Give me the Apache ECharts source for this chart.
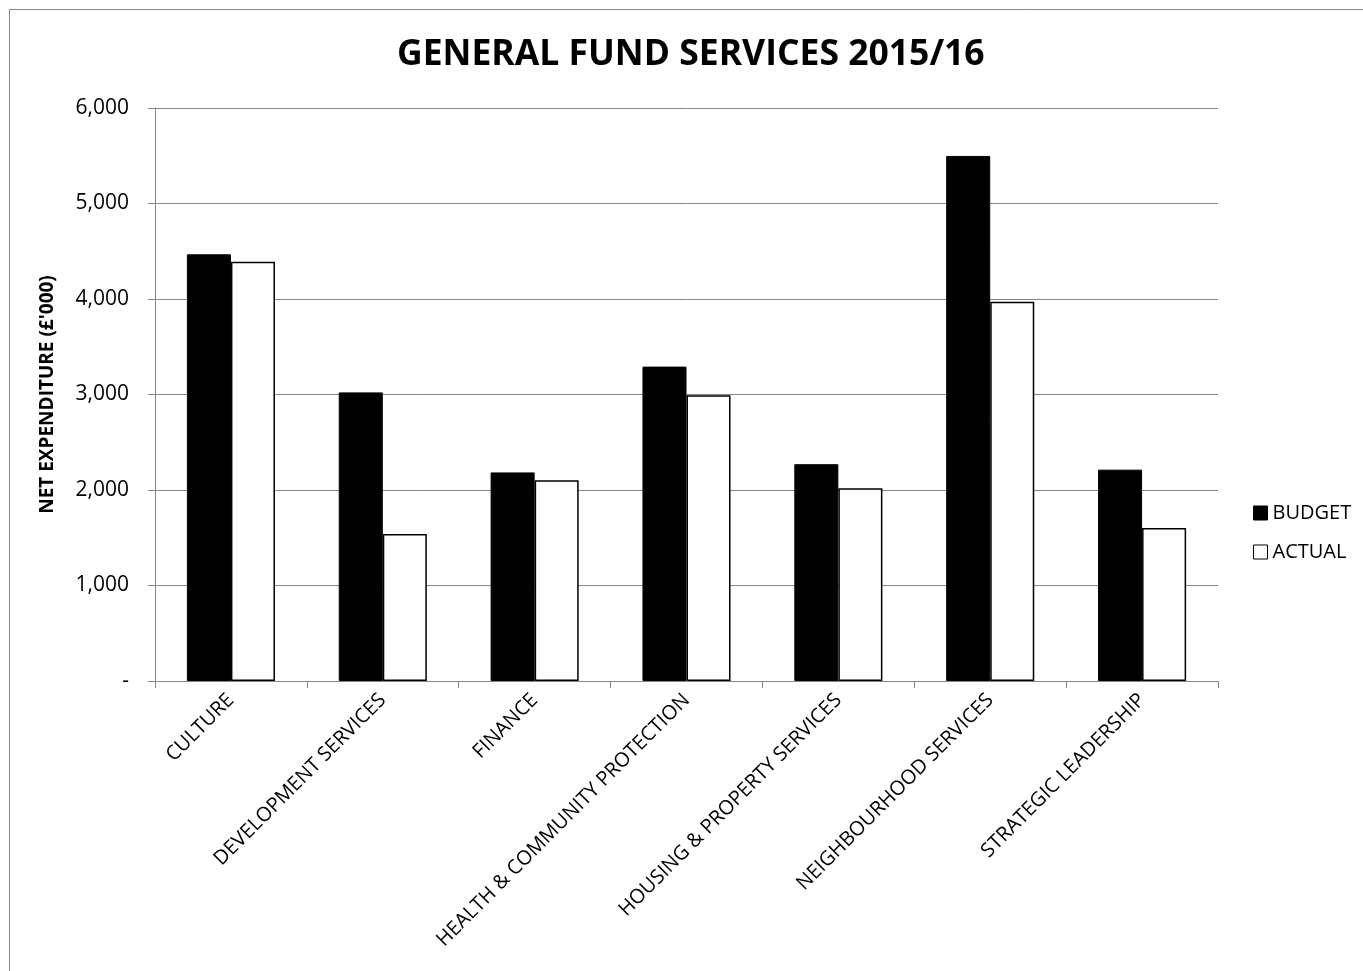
<!DOCTYPE html>
<html>
<head>
<meta charset="utf-8">
<script src="https://cdn.jsdelivr.net/npm/echarts@6/dist/echarts.min.js"></script>
<style>
html,body{margin:0;padding:0;background:#fff;}
#chart{width:1363px;height:971px;}
</style>
</head>
<body>
<div id="chart"></div>
<script>
const categories = ["CULTURE","DEVELOPMENT SERVICES","FINANCE","HEALTH & COMMUNITY PROTECTION","HOUSING & PROPERTY SERVICES","NEIGHBOURHOOD SERVICES","STRATEGIC LEADERSHIP"];
const budget = [4468, 3022, 2184, 3292, 2270, 5498, 2213];
const actual = [4390, 1539, 2101, 2993, 2019, 3970, 1603];
const yTicks = [0, 1000, 2000, 3000, 4000, 5000, 6000];

const font = "'Open Sans', 'Liberation Sans', sans-serif";
const chart = echarts.init(document.getElementById('chart'));
chart.setOption({
  animation: false,
  backgroundColor: '#fff',
  graphic: [{
    type: 'rect', left: 7, top: 7, shape: {width: 1360, height: 970},
    style: {fill: 'none', stroke: '#868686', lineWidth: 1}, silent: true
  }],
  title: {
    text: 'GENERAL FUND SERVICES 2015/16',
    left: 392, top: 32,
    textStyle: {fontFamily: font, fontWeight: 'bold', fontSize: 35.5, color: '#000'}
  },
  legend: {
    orient: 'vertical', left: 1248, top: 498, itemGap: 19,
    itemWidth: 14, itemHeight: 14,
    textStyle: {fontFamily: font, fontSize: 20, color: '#000', padding: [0,0,0,0]},
    data: [
      {name: 'BUDGET', icon: 'rect', itemStyle: {color: '#000', borderColor: '#000', borderWidth: 1}},
      {name: 'ACTUAL', icon: 'rect', itemStyle: {color: '#fff', borderColor: '#000', borderWidth: 1}}
    ]
  },
  grid: {left: 155, right: 145, top: 108, bottom: 290, containLabel: false},
  xAxis: {
    type: 'category', data: categories,
    axisLine: {lineStyle: {color: '#868686', width: 1}},
    axisTick: {show: true, length: 7, lineStyle: {color: '#868686'}},
    axisLabel: {rotate: 45, fontFamily: font, fontSize: 20, color: '#000', margin: 16, interval: 0}
  },
  yAxis: {
    type: 'value', min: 0, max: 6000, interval: 1000,
    name: "NET EXPENDITURE (£'000)", nameLocation: 'middle', nameGap: 98, nameRotate: 90,
    nameTextStyle: {fontFamily: font, fontWeight: 'bold', fontSize: 19, color: '#000'},
    axisLine: {show: true, lineStyle: {color: '#868686'}},
    axisTick: {show: true, length: 7, lineStyle: {color: '#868686'}},
    splitLine: {lineStyle: {color: '#868686', width: 1}},
    axisLabel: {
      fontFamily: font, fontSize: 21, color: '#000', margin: 26,
      formatter: v => yTicks.includes(v) ? (v === 0 ? '-' : v.toLocaleString('en-US')) : ''
    }
  },
  series: [
    {name: 'BUDGET', type: 'bar', data: budget, barGap: '0%', barCategoryGap: '42%',
     itemStyle: {color: '#000', borderColor: '#000', borderWidth: 1}},
    {name: 'ACTUAL', type: 'bar', data: actual,
     itemStyle: {color: '#fff', borderColor: '#000', borderWidth: 1.5}}
  ]
});
</script>
</body>
</html>
